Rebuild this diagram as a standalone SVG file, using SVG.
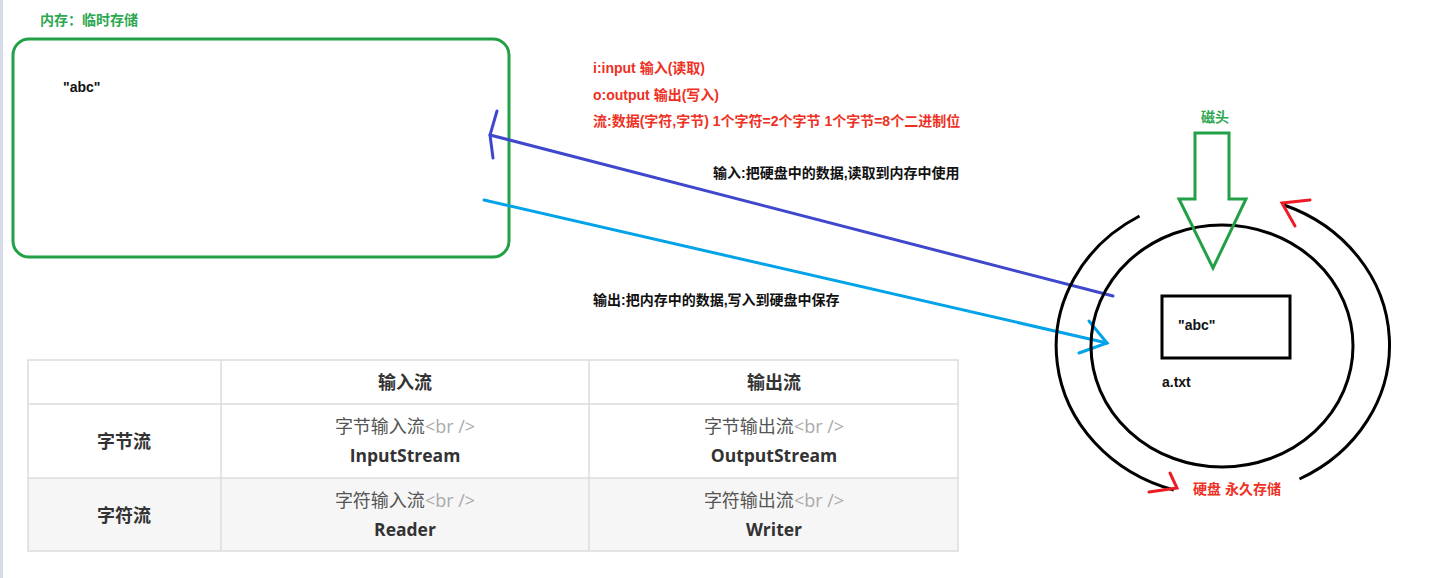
<svg xmlns="http://www.w3.org/2000/svg" width="1451" height="578" viewBox="0 0 1451 578">
<style>
  .cjk{font-family:"Liberation Sans","Noto Sans CJK SC",sans-serif;font-weight:bold;font-size:14px}
  .red{fill:#ee3124}
  .grn{fill:#2ca850}
  .blk{fill:#111}
  .th{font-family:"Open Sans","Noto Sans CJK SC",sans-serif;font-weight:bold;font-size:18px;fill:#333;text-anchor:middle}
  .td1{font-family:"Open Sans","Noto Sans CJK SC",sans-serif;font-size:18px;fill:#555;text-anchor:middle}
  .br{fill:#aaa}
  .td2{font-family:"Open Sans","Noto Sans CJK SC",sans-serif;font-weight:bold;font-size:17.5px;fill:#333;text-anchor:middle}
  .cell{stroke:#dcdcdc;stroke-width:1.5}
  .thick{fill:none;stroke:#000;stroke-width:3}
</style>
<rect x="0" y="0" width="1451" height="578" fill="#ffffff"/>
<rect x="0" y="0" width="3" height="578" fill="#d6dcea"/>

<g id="memory">
  <text class="cjk grn" x="40" y="25">内存：临时存储</text>
  <rect x="13" y="39" width="496" height="218" rx="16" fill="none" stroke="#22a045" stroke-width="3"/>
  <text class="cjk blk" x="63" y="92">"abc"</text>
</g>

<g id="notes">
  <text class="cjk red" x="593" y="73">i:input 输入(读取)</text>
  <text class="cjk red" x="593" y="100">o:output 输出(写入)</text>
  <text class="cjk red" x="593" y="126">流:数据(字符,字节) 1个字符=2个字节 1个字节=8个二进制位</text>
</g>

<g id="connectors" fill="none" stroke-linecap="round" stroke-width="3">
  <g id="input-arrow" stroke="#3f48cc">
    <path d="M1113,296 L490,135"/>
    <path d="M497,111 L490,135 L493,158"/>
  </g>
  <g id="output-arrow" stroke="#00a2e8">
    <path d="M484,200 L1107,343"/>
    <path d="M1089,321 L1107,343 L1079,353"/>
  </g>
  <text class="cjk blk" x="713" y="178" stroke="none">输入:把硬盘中的数据,读取到内存中使用</text>
  <text class="cjk blk" x="593" y="305" stroke="none">输出:把内存中的数据,写入到硬盘中保存</text>
</g>

<g id="disk">
  <ellipse class="thick" cx="1222" cy="346" rx="131" ry="121"/>
  <path class="thick" d="M1139.5,216 A165,150 0 0 0 1173.8,490"/>
  <path class="thick" d="M1299.5,479 A164,150 0 0 0 1284,205"/>
  <g fill="none" stroke="#ed1c24" stroke-width="3" stroke-linecap="round">
    <path d="M1310,200 L1282,203 L1295,226"/>
    <path d="M1170,473 L1177,488 L1149,492"/>
  </g>
  <rect class="thick" x="1162" y="296" width="128" height="62"/>
  <text class="cjk blk" x="1178" y="330">"abc"</text>
  <text class="cjk blk" x="1162" y="387">a.txt</text>
  <text class="cjk red" x="1193" y="494">硬盘 永久存储</text>
</g>

<g id="head">
  <text class="cjk grn" x="1215" y="122" text-anchor="middle">磁头</text>
  <polygon points="1195,133 1229,133 1229,199 1246,199 1213,268 1179,199 1195,199" fill="none" stroke="#22a045" stroke-width="3" stroke-linejoin="miter"/>
</g>

<g id="table">
  <rect x="28" y="478" width="930" height="73" fill="#f6f6f6"/>
  <rect class="cell" x="28" y="360" width="930" height="191" fill="none"/>
  <line class="cell" x1="28" y1="404" x2="958" y2="404"/>
  <line class="cell" x1="28" y1="478" x2="958" y2="478"/>
  <line class="cell" x1="221" y1="360" x2="221" y2="551"/>
  <line class="cell" x1="589" y1="360" x2="589" y2="551"/>
  <text class="th" x="405" y="389">输入流</text>
  <text class="th" x="774" y="389">输出流</text>
  <text class="th" x="124" y="448">字节流</text>
  <text class="th" x="124" y="522">字符流</text>
  <text class="td1" x="405" y="433">字节输入流<tspan class="br">&lt;br /&gt;</tspan></text>
  <text class="td2" x="405" y="462">InputStream</text>
  <text class="td1" x="774" y="433">字节输出流<tspan class="br">&lt;br /&gt;</tspan></text>
  <text class="td2" x="774" y="462">OutputStream</text>
  <text class="td1" x="405" y="507">字符输入流<tspan class="br">&lt;br /&gt;</tspan></text>
  <text class="td2" x="405" y="536">Reader</text>
  <text class="td1" x="774" y="507">字符输出流<tspan class="br">&lt;br /&gt;</tspan></text>
  <text class="td2" x="774" y="536">Writer</text>
</g>
</svg>
